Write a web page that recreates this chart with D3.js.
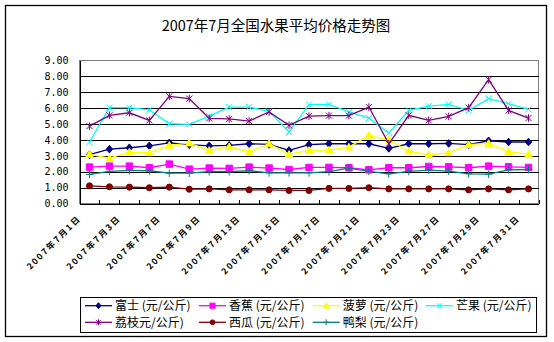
<!DOCTYPE html>
<html><head><meta charset="utf-8">
<script src="https://cdn.jsdelivr.net/npm/d3@7"></script>
<style>html,body{margin:0;padding:0;background:#fff;}svg{display:block;}</style>
</head><body>
<svg id="c" width="554" height="342"></svg>
<script>
const title = "2007年7月全国水果平均价格走势图";
const days = [1,2,3,6,7,8,9,10,13,14,15,16,17,20,21,22,23,24,27,28,29,30,31];
const categories = days.map(d => "2007年7月" + d + "日");
const yTicks = [0,1,2,3,4,5,6,7,8,9];
const seriesNames = ["富士 (元/公斤)","香蕉 (元/公斤)","菠萝 (元/公斤)","芒果 (元/公斤)","荔枝元/公斤)","西瓜 (元/公斤)","鸭梨 (元/公斤)"];
const fuji       = [3.07,3.42,3.51,3.63,3.82,3.70,3.63,3.66,3.76,3.72,3.34,3.70,3.76,3.76,3.76,3.47,3.76,3.76,3.78,3.70,3.95,3.87,3.87];
const banana     = [2.29,2.35,2.35,2.25,2.48,2.16,2.23,2.21,2.29,2.23,2.14,2.27,2.27,2.25,2.12,2.25,2.25,2.33,2.31,2.25,2.35,2.31,2.27];
const pineapple  = [3.09,2.86,3.24,3.19,3.66,3.80,3.34,3.57,3.24,3.76,3.09,3.34,3.36,3.55,4.29,4.01,3.30,3.07,3.19,3.70,3.78,3.26,3.09];
const mango      = [3.87,6.03,6.03,5.90,5.02,4.98,5.50,6.07,6.07,5.80,4.50,6.22,6.24,5.76,5.38,4.43,5.86,6.13,6.24,5.86,6.60,6.28,5.92];
const lychee     = [4.87,5.55,5.71,5.23,6.74,6.60,5.36,5.32,5.19,5.76,4.92,5.50,5.53,5.53,6.07,3.76,5.55,5.23,5.48,6.03,7.79,5.86,5.38];
const watermelon = [1.11,1.05,1.03,0.99,1.03,0.90,0.92,0.86,0.86,0.86,0.82,0.82,0.95,0.95,0.99,0.92,0.92,0.92,0.92,0.86,0.92,0.86,0.92];
const pear       = [1.83,2.02,2.08,2.06,1.91,1.91,2.00,2.00,2.06,1.93,1.93,1.93,2.00,2.23,2.02,1.87,2.02,2.10,2.04,1.87,1.85,2.12,2.14];
const seriesValues = [fuji, banana, pineapple, mango, lychee, watermelon, pear];
const colors = ["#000080","#ff00ff","#ffff00","#00ffff","#800080","#800000","#008080"];
const markers = ["diamond","square","triangle","x","star","circle","plus"];

const svg = d3.select("#c");
const L = 79.5, R = 538.5, T = 60.5, B = 203.5;
const font = "'Noto Sans CJK SC', 'Noto Sans', sans-serif";

svg.append("rect").attr("x",0).attr("y",0).attr("width",554).attr("height",342).attr("fill","#fff");
svg.append("rect").attr("x",5.5).attr("y",5.5).attr("width",541).attr("height",331)
  .attr("fill","#fff").attr("stroke","#000").attr("stroke-width",1.3);

svg.append("text").attr("x",276).attr("y",31).attr("text-anchor","middle")
  .attr("font-family",font).attr("font-size",14.5).attr("fill","#000").text(title);

const x = d3.scaleBand().domain(d3.range(categories.length)).range([L,R]).padding(0);
const cx = i => x(i) + x.bandwidth()/2;
const xb = d3.scaleLinear().domain([0,categories.length]).range([L,R]);
const y = d3.scaleLinear().domain([0,9]).range([B,T]);

svg.append("rect").attr("x",L).attr("y",T).attr("width",R-L).attr("height",B-T)
  .attr("fill","#fff").attr("stroke","#808080").attr("stroke-width",1).attr("shape-rendering","crispEdges");

const grid = svg.append("g").attr("transform",`translate(${L},0)`)
  .call(d3.axisLeft(y).tickValues(yTicks.filter(v=>v>0 && v<9)).tickSize(-(R-L)).tickFormat(""));
grid.select(".domain").remove();
grid.selectAll("line").attr("stroke","#000").attr("shape-rendering","crispEdges");

const ya = svg.append("g").attr("transform",`translate(${L},0)`)
  .call(d3.axisLeft(y).tickValues(yTicks).tickSize(0).tickPadding(11).tickFormat(d3.format(".2f")));
ya.select(".domain").attr("stroke","#000").attr("shape-rendering","crispEdges");
ya.selectAll("text").attr("font-family","'DejaVu Sans Mono', monospace").attr("font-size",10).attr("fill","#000");

const xa = svg.append("g").attr("transform",`translate(0,${B})`)
  .call(d3.axisBottom(xb).tickValues(d3.range(categories.length+1)).tickSizeInner(-4).tickSizeOuter(0).tickFormat(""));
xa.select(".domain").attr("stroke","#000").attr("shape-rendering","crispEdges");
xa.selectAll("line").attr("stroke","#000").attr("shape-rendering","crispEdges");

svg.append("g").selectAll("text").data(categories.map((c,i)=>({c,i})).filter(d=>d.i%2===0))
  .join("text")
  .attr("transform", d => `translate(${cx(d.i)-8},219) rotate(-45)`)
  .attr("text-anchor","end")
  .attr("font-family",font).attr("font-size",8.5).attr("font-weight","bold")
  .attr("letter-spacing","1.85px").attr("fill","#000")
  .text(d => d.c);

function markerPath(type, s) {
  const p = d3.path();
  if (type === "diamond") { p.moveTo(0,-s); p.lineTo(s*0.85,0); p.lineTo(0,s); p.lineTo(-s*0.85,0); p.closePath(); }
  else if (type === "square") { p.rect(-s*0.85,-s*0.85,s*1.7,s*1.7); }
  else if (type === "triangle") { p.moveTo(0,-s); p.lineTo(s,s*0.75); p.lineTo(-s,s*0.75); p.closePath(); }
  else if (type === "x") { const a=s*0.8; p.moveTo(-a,-a); p.lineTo(a,a); p.moveTo(-a,a); p.lineTo(a,-a); }
  else if (type === "star") { const a=s*0.8; p.moveTo(-a,-a); p.lineTo(a,a); p.moveTo(-a,a); p.lineTo(a,-a); p.moveTo(0,-s); p.lineTo(0,s); }
  else if (type === "circle") { p.arc(0,0,s*0.8,0,2*Math.PI); }
  else if (type === "plus") { p.moveTo(-s,0); p.lineTo(s,0); p.moveTo(0,-s); p.lineTo(0,s); }
  return p.toString();
}
const filled = t => ["diamond","square","triangle","circle"].includes(t);

const line = d3.line().x((d,i)=>cx(i)).y(d=>y(d));
seriesValues.forEach((vals, k) => {
  const g = svg.append("g");
  g.append("path").attr("d", line(vals)).attr("fill","none").attr("stroke",colors[k]).attr("stroke-width",1.3);
  g.selectAll("path.m").data(vals).join("path").attr("class","m")
    .attr("transform",(d,i)=>`translate(${cx(i)},${y(d)})`)
    .attr("d", markerPath(markers[k], 3.8))
    .attr("fill", filled(markers[k]) ? colors[k] : "none")
    .attr("stroke", colors[k]).attr("stroke-width",1);
});

svg.append("rect").attr("x",80.5).attr("y",297.5).attr("width",456).attr("height",35)
  .attr("fill","#fff").attr("stroke","#000").attr("stroke-width",1);
const colX = [85, 199, 312.7, 426], rowY = [305.7, 322.3];
seriesNames.forEach((name, k) => {
  const lx = colX[k % 4], ly = rowY[Math.floor(k / 4)];
  const g = svg.append("g");
  g.append("line").attr("x1",lx).attr("x2",lx+27).attr("y1",ly).attr("y2",ly).attr("stroke",colors[k]).attr("stroke-width",1.3);
  g.append("path").attr("transform",`translate(${lx+13.5},${ly})`).attr("d",markerPath(markers[k],3))
    .attr("fill", filled(markers[k]) ? colors[k] : "none").attr("stroke",colors[k]).attr("stroke-width",1);
  g.append("text").attr("x",lx+30).attr("y",ly).attr("dy","0.35em")
    .attr("font-family",font).attr("font-size",12).attr("fill","#000").text(name);
});
</script>
</body></html>
